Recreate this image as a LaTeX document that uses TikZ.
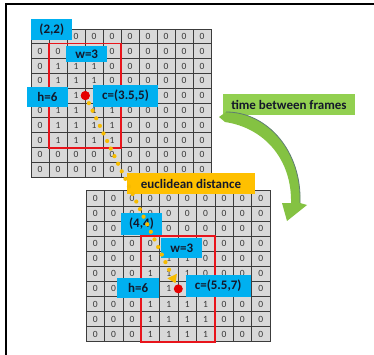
\documentclass[tikz,border=0pt]{standalone}
\usepackage{fontspec}
\setmainfont{Carlito}
\usetikzlibrary{arrows.meta}
\definecolor{cellgray}{HTML}{D9D9D9}
\definecolor{gridline}{HTML}{3C3C3C}
\definecolor{lblue}{HTML}{00B0F0}
\definecolor{lgreen}{HTML}{92D050}
\definecolor{lorange}{HTML}{FFC000}
\definecolor{dotgold}{HTML}{F7BC00}
\definecolor{boxred}{HTML}{E8141B}
\definecolor{arrowgreen}{HTML}{84C242}
\definecolor{arrowedge}{HTML}{5E7C72}
\definecolor{labeltext}{HTML}{14182A}
\newcommand\cellval[1]{\if#1-\else#1\fi}
\tikzset{
  cell/.style={draw=gridline, fill=cellgray, line width=0.6pt, inner sep=0pt,
    font=\fontsize{9.5}{10}\selectfont, text=black!78},
  topcell/.style={cell, minimum width=18pt, minimum height=14.8pt},
  botcell/.style={cell, minimum width=18.4pt, minimum height=15.1pt},
  tag/.style={inner sep=0pt, font=\fontsize{13}{14}\selectfont\bfseries, text=labeltext},
  bluetag/.style={tag, fill=lblue},
  redbox/.style={draw=boxred, line width=1.8pt},
  reddot/.style={circle, fill=red!90!black, inner sep=0pt, minimum size=9pt},
  dotline/.style={draw=dotgold, line width=4.2pt, line cap=round, dash pattern=on 0pt off 8.4pt,
    -{Triangle[width=10pt,length=8pt]}, shorten >=1.5pt},
}
\begin{document}
\begin{tikzpicture}[x=1pt,y=-1pt]
\useasboundingbox (0,0) rectangle (374,355);
% frame
\draw[line width=1.2pt] (6,355) -- (6,4) -- (374,4);
% top grid ("-" marks a cell hidden under a label)
\foreach \rowvals [count=\r from 0] in {
  {-,-,0,0,0,0,0,0,0,0},
  {0,0,-,-,0,0,0,0,0,0},
  {0,1,1,1,0,0,0,0,0,0},
  {0,1,1,1,0,0,0,0,0,0},
  {-,-,1,-,-,-,-,0,0,0},
  {0,1,1,1,1,0,0,0,0,0},
  {0,1,1,1,1,0,0,0,0,0},
  {0,1,1,1,1,0,0,0,0,0},
  {0,0,0,0,0,0,0,0,0,0},
  {0,0,0,0,0,0,0,0,0,0}}{
  \foreach \v [count=\c from 0] in \rowvals {
    \node[topcell] (t\r-\c) at ({40+18*\c},{36.4+14.8*\r}) {\cellval{\v}};
  }
}
% bottom grid
\foreach \rowvals [count=\r from 0] in {
  {0,0,0,0,0,0,0,0,0,0},
  {0,0,0,0,0,0,0,0,0,0},
  {0,0,-,-,0,0,0,0,0,0},
  {0,0,0,0,-,-,0,0,0,0},
  {0,0,0,1,1,1,0,0,0,0},
  {0,0,0,1,1,1,0,0,0,0},
  {0,0,-,-,1,-,-,-,-,0},
  {0,0,0,1,1,1,1,0,0,0},
  {0,0,0,1,1,1,1,0,0,0},
  {0,0,0,1,1,1,1,0,0,0}}{
  \foreach \v [count=\c from 0] in \rowvals {
    \node[botcell] (b\r-\c) at ({95.2+18.4*\c},{198.25+15.1*\r}) {\cellval{\v}};
  }
}
% red boxes
\draw[redbox] (t1-1.north west) rectangle (t7-4.south east);
\draw[redbox] (b3-3.north west) rectangle (b9-6.south east);
% labels
\node[bluetag, minimum width=41pt, minimum height=21pt] (l22) at (51.8,30) {(2,2)};
\node[bluetag, minimum width=41pt, minimum height=16.5pt] (lw3t) at (86.7,54.25) {w=3};
\node[bluetag, minimum width=41pt, minimum height=20pt] (lh6t) at (47.5,97) {h=6};
\node[bluetag, minimum width=65pt, minimum height=22pt] (lct) at (125.5,96) {c=(3.5,5)};
\node[bluetag, minimum width=41.6pt, minimum height=21.7pt] (l44) at (141.5,224) {(4,4)};
\node[bluetag, minimum width=41pt, minimum height=20pt] (lw3b) at (181.8,248.3) {w=3};
\node[bluetag, minimum width=41.7pt, minimum height=20pt] (lh6b) at (138.2,288.3) {h=6};
\node[bluetag, minimum width=65pt, minimum height=21.7pt] (lcb) at (218.2,285.8) {c=(5.5,7)};
\node[tag, fill=lorange, minimum width=128pt, minimum height=21pt] (leu) at (191,183.5) {euclidean distance};
\node[tag, fill=lgreen, minimum width=132pt, minimum height=21pt] (ltime) at (289,104.5) {time between frames};
% green curved arrow
\fill[arrowgreen] (219,117) -- (226,112) .. controls (268,112) and (302,152) .. (300,203)
  -- (307,205) -- (287,221) -- (282,203) -- (291,203)
  .. controls (292,160) and (265,128) .. (225,122) -- cycle;
\draw[arrowedge, line width=0.8pt] (226,112) .. controls (268,112) and (302,152) .. (300,203);
% centroid dots and distance line
\node[reddot] (tdot) at (t4-2.east) {};
\node[reddot] (bdot) at (b6-4.east) {};
\draw[dotline] (tdot.center) -- (bdot);
\node[reddot] at (tdot) {};
\end{tikzpicture}
\end{document}
